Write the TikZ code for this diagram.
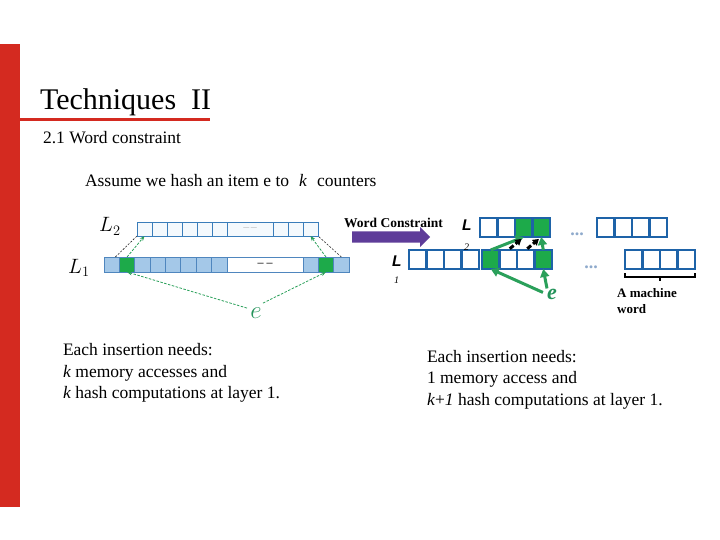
\documentclass[tikz,border=0pt]{standalone}
\usepackage{fontspec}
\setmainfont{Liberation Serif}
\newfontfamily\arialf{Liberation Sans}
\usetikzlibrary{shapes.arrows,arrows.meta}
\definecolor{redbar}{HTML}{D42A20}
\definecolor{ltwoborder}{HTML}{3A7DBA}
\definecolor{ltwofill}{HTML}{F4F9FD}
\definecolor{lonefill}{HTML}{A4C8E8}
\definecolor{loneborder}{HTML}{4F86BE}
\definecolor{cellgreen}{HTML}{1DAA4A}
\definecolor{rblue}{HTML}{1E63A8}
\definecolor{arrowgreen}{HTML}{2AA05A}
\definecolor{egreen}{HTML}{23935A}
\definecolor{wcpurple}{HTML}{5E3C99}
\definecolor{dotblue}{HTML}{8FAACC}
\tikzset{
  ltwocell/.style={draw=ltwoborder, fill=ltwofill, line width=0.8pt, minimum width=15pt, minimum height=14pt, inner sep=0pt, outer sep=0pt, anchor=north west},
  lonecell/.style={draw=loneborder, fill=lonefill, line width=0.8pt, minimum width=15.375pt, minimum height=15pt, inner sep=0pt, outer sep=0pt, anchor=north west},
  rcell/.style={draw=rblue, fill=white, line width=2.6pt, minimum width=17.5pt, minimum height=19pt, inner sep=0pt, outer sep=0pt, anchor=north west},
  txt/.style={anchor=base west, inner sep=0pt, outer sep=0pt, font=\fontsize{17.5}{22}\selectfont},
  blackdot/.style={dash pattern=on 2pt off 1.5pt, line width=0.6pt, black!85},
  greendot/.style={dash pattern=on 2.5pt off 1.5pt, line width=0.8pt, arrowgreen, -{Stealth[length=5pt,width=4pt]}},
  greenthick/.style={line width=3pt, arrowgreen, -{Triangle[length=8pt,width=9pt]}},
  blackthick/.style={line width=3pt, black, dash pattern=on 5pt off 2.5pt, -{Triangle[length=6pt,width=7pt]}},
}
\begin{document}
\begin{tikzpicture}[x=1pt,y=-1pt]
\useasboundingbox (0,0) rectangle (720,540);
\fill[white] (0,0) rectangle (720,540);
% red decorations
\fill[redbar] (0,44) rectangle (20,507);
\fill[redbar] (20,118.5) rectangle (210,121.5);
% titles
\node[txt, font=\fontsize{30}{34}\selectfont] (title) at (40,110) {Techniques\ \ II};
\node[txt] (sub) at (43,144) {2.1 Word constraint};
\node[txt] (assume) at (85,187) {Assume we hash an item e to\hspace{10pt}\textit{k}\hspace{10pt}counters};
% ---------- left diagram ----------
\foreach \i/\x in {1/137,2/152,3/167,4/182,5/197,6/212,7/273,8/288,9/303}
  \node[ltwocell] (l2c\i) at (\x,222) {};
\node[ltwocell, minimum width=46pt, font=\fontsize{6}{6}\selectfont, text=gray] (l2w) at (227,222) {--- ---};
\foreach \i/\x in {1/104,2/119.375,3/134.75,4/150.125,5/165.5,6/180.875,7/196.25,8/211.625}
  \node[lonecell] (l1c\i) at (\x,257) {};
\node[lonecell, fill=white, minimum width=76pt, font=\bfseries\fontsize{12}{12}\selectfont, text=black!80] (l1w) at (227,257) {-- --};
\foreach \i/\x in {9/303,10/318.33,11/333.67}
  \node[lonecell, minimum width=15.33pt] (l1c\i) at (\x,257) {};
\node[lonecell, fill=cellgreen] at (119.375,257) {};
\node[lonecell, minimum width=15.33pt, fill=cellgreen] at (318.33,257) {};
\node[anchor=base west, inner sep=0pt, font=\fontsize{22}{22}\selectfont] (lab2) at (99,232) {$L_2$};
\node[anchor=base west, inner sep=0pt, font=\fontsize{22}{22}\selectfont] (lab1) at (68,273) {$L_1$};
\node[anchor=base, inner sep=0pt, font=\fontsize{24}{24}\selectfont, text=egreen] (eleft) at (256,318) {$e$};
\draw[blackdot] ([xshift=-4pt]l1c1.north east) -- (l2c1.south west);
\draw[greendot] (l1c2.north) -- (l2c1.south);
\draw[greendot] (l1c10.north) -- (l2c9.south);
\draw[blackdot] (l1c11.north) -- (l2c9.south east);
\draw[greendot] ([xshift=-9pt,yshift=-1pt]eleft.north) -- (l1c2.south);
\draw[greendot] ([xshift=7pt,yshift=4pt]eleft.north) -- (l1c10.south);
% ---------- arrow ----------
\node[single arrow, fill=wcpurple, minimum height=78pt, inner xsep=0pt, inner ysep=5.5pt, single arrow head extend=4.5pt, anchor=west] (wcarrow) at (352,237) {};
\node[anchor=base west, inner sep=0pt, font=\bfseries\fontsize{13.5}{14}\selectfont] (wctext) at (344,227) {Word Constraint};
% ---------- right diagram ----------
\foreach \i/\x in {1/480,2/497.5,3/515,4/532.5}
  \node[rcell] (r2a\i) at (\x,218) {};
\foreach \i/\x in {1/597,2/614.5,3/632,4/649.5}
  \node[rcell] (r2b\i) at (\x,218) {};
\foreach \i/\x in {1/409,2/426.5,3/444,4/461.5}
  \node[rcell] (r1a\i) at (\x,250) {};
\foreach \i/\x in {1/482,2/499.5,3/517,4/534.5}
  \node[rcell] (r1b\i) at (\x,250) {};
\foreach \i/\x in {1/625,2/642.5,3/660,4/677.5}
  \node[rcell] (r1d\i) at (\x,250) {};
\node[rcell, fill=cellgreen] at (515,218) {};
\node[rcell, fill=cellgreen] at (532.5,218) {};
\node[rcell, fill=cellgreen] at (482,250) {};
\node[rcell, fill=cellgreen] at (534.5,250) {};
\node[anchor=base west, inner sep=0pt, font=\arialf\bfseries\itshape\fontsize{15.5}{16}\selectfont] (rl2) at (462,230) {L};
\node[anchor=base west, inner sep=0pt, font=\itshape\fontsize{10}{10}\selectfont] (rl2s) at (464,250) {2};
\node[anchor=base west, inner sep=0pt, font=\arialf\bfseries\itshape\fontsize{15.5}{16}\selectfont] (rl1) at (392,266) {L};
\node[anchor=base west, inner sep=0pt, font=\itshape\fontsize{10}{10}\selectfont] (rl1s) at (394,283) {1};
\node[anchor=base, inner sep=0pt, font=\bfseries\fontsize{18}{18}\selectfont, text=dotblue] (dots2) at (577,236) {...};
\node[anchor=base, inner sep=0pt, font=\bfseries\fontsize{18}{18}\selectfont, text=dotblue] (dots1) at (591,268) {...};
\node[anchor=base, inner sep=0pt, font=\bfseries\itshape\fontsize{22}{22}\selectfont, text=egreen] (eright) at (552,299) {e};
\draw[greenthick] ([xshift=-4pt,yshift=-4pt]eright.north west) -- (r1b1.south);
\draw[greenthick] ([xshift=-5pt]eright.north) -- (r1b4.south);
\draw[greenthick] (r1b1.north) -- (r2a3.south);
\draw[greenthick] (r1b4.north) -- (r2a4.south);
\draw[blackthick, shorten <=2pt, shorten >=3pt] (r1b2.north) -- (r2a3.south);
\draw[blackthick, shorten <=2pt, shorten >=3pt] (r1b3.north) -- (r2a4.south);
% brace
\coordinate (brl) at ([yshift=-4pt]r1d1.south west);
\coordinate (brr) at ([yshift=-4pt]r1d4.south east);
\draw[line width=2pt, black] (brl) -- ++(0,4) -| (brr);
\draw[line width=2pt, black] ([yshift=-8pt]r1d3.south west) -- ++(0,4);
\node[anchor=base west, inner sep=0pt, font=\bfseries\fontsize{13}{15}\selectfont] (mw1) at (617,297) {A machine};
\node[anchor=base west, inner sep=0pt, font=\bfseries\fontsize{13}{15}\selectfont] (mw2) at (617,313) {word};
% ---------- bottom text ----------
\node[txt] (la) at (63,355) {Each insertion needs:};
\node[txt] (lb) at (63,377) {\textit{k} memory accesses and};
\node[txt] (lc) at (63,398) {\textit{k} hash computations at layer 1.};
\node[txt] (ra) at (427,362) {Each insertion needs:};
\node[txt] (rb) at (427,383) {1 memory access and};
\node[txt] (rc) at (427,405) {\textit{k}+\textit{1} hash computations at layer 1.};
\end{tikzpicture}
\end{document}
